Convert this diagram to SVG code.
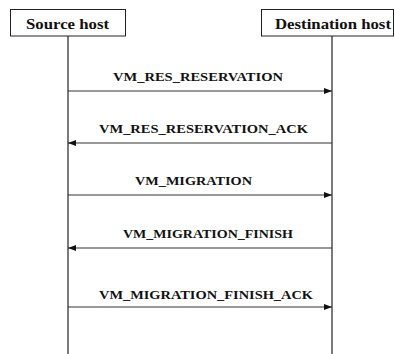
<svg xmlns="http://www.w3.org/2000/svg" width="395" height="354" viewBox="0 0 395 354">
<defs>
<marker id="ah" markerUnits="userSpaceOnUse" markerWidth="8" markerHeight="6" refX="8" refY="3" orient="auto">
<path d="M0,0 L8,3 L0,6 Z" fill="#111"/>
</marker>
</defs>
<rect width="395" height="354" fill="#fff"/>
<g id="source">
<rect x="10.5" y="9.5" width="115" height="26.5" fill="#fff" stroke="#222" stroke-width="1"/>
<text font-family="Liberation Serif" font-weight="bold" font-size="14" fill="#111" x="26" y="29" textLength="83" lengthAdjust="spacingAndGlyphs">Source host</text>
</g>
<g id="destination">
<rect x="261.5" y="9.5" width="132" height="26.5" fill="#fff" stroke="#222" stroke-width="1"/>
<text font-family="Liberation Serif" font-weight="bold" font-size="14" fill="#111" x="275" y="29" textLength="116" lengthAdjust="spacingAndGlyphs">Destination host</text>
</g>
<g id="lifelines" stroke="#222" stroke-width="1.2" fill="none">
<line x1="68" y1="36" x2="68" y2="354"/>
<line x1="332" y1="36" x2="332" y2="354"/>
</g>
<g id="connectors" stroke="#333" stroke-width="1.2" fill="none" marker-end="url(#ah)">
<line x1="68" y1="91" x2="332" y2="91"/>
<line x1="332" y1="143" x2="68" y2="143"/>
<line x1="68" y1="195" x2="332" y2="195"/>
<line x1="332" y1="248" x2="68" y2="248"/>
<line x1="68" y1="307" x2="332" y2="307"/>
</g>
<g id="labels" font-family="Liberation Serif" font-weight="bold" font-size="11.5" fill="#111">
<text x="113" y="80.5" textLength="170" lengthAdjust="spacingAndGlyphs">VM_RES_RESERVATION</text>
<text x="99" y="133" textLength="209" lengthAdjust="spacingAndGlyphs">VM_RES_RESERVATION_ACK</text>
<text x="135" y="185" textLength="117" lengthAdjust="spacingAndGlyphs">VM_MIGRATION</text>
<text x="123" y="238" textLength="170" lengthAdjust="spacingAndGlyphs">VM_MIGRATION_FINISH</text>
<text x="99" y="299" textLength="214" lengthAdjust="spacingAndGlyphs">VM_MIGRATION_FINISH_ACK</text>
</g>
</svg>
